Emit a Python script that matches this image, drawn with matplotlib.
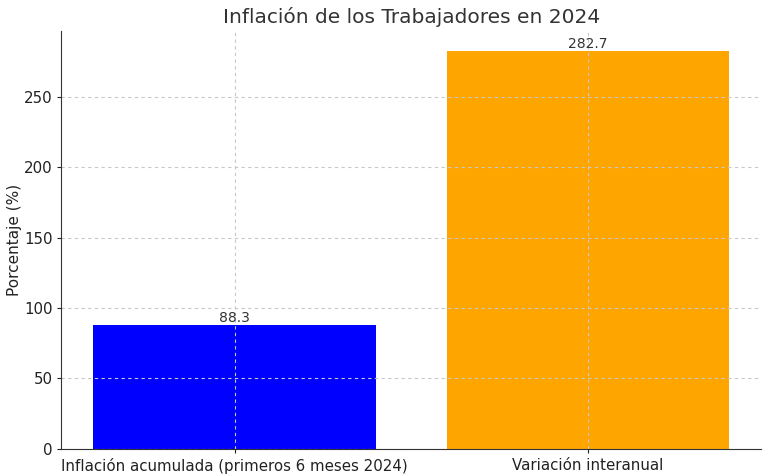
import matplotlib
matplotlib.use("Agg")
import matplotlib.pyplot as plt

categories = ["Inflación acumulada (primeros 6 meses 2024)", "Variación interanual"]
values = [88.3, 282.7]
colors = ["blue", "orange"]

plt.rcParams['font.family'] = ['DejaVu Sans']
fig, ax = plt.subplots(figsize=(7.68, 4.76), dpi=100)
bars = ax.bar(categories, values, color=colors)
for b, v in zip(bars, values):
    ax.text(b.get_x() + b.get_width() / 2, v, f"{v}", ha="center", va="bottom",
            fontsize=10, color="#333333")
ax.set_title("Inflación de los Trabajadores en 2024", fontsize=14.5, color="#333333")
ax.set_ylabel("Porcentaje (%)", fontsize=11, color="#222222", labelpad=1)
ax.tick_params(labelsize=10.8, colors="#222222", length=3)
ax.grid(True, linestyle=(0, (3, 3)), color="#c8c8c8", linewidth=0.8)
for s in ["top", "right"]:
    ax.spines[s].set_visible(False)
for s in ["left", "bottom"]:
    ax.spines[s].set_color("#333333")
fig.subplots_adjust(left=0.08, right=0.991, top=0.935, bottom=0.057)
fig.savefig("out.png", dpi=100)
